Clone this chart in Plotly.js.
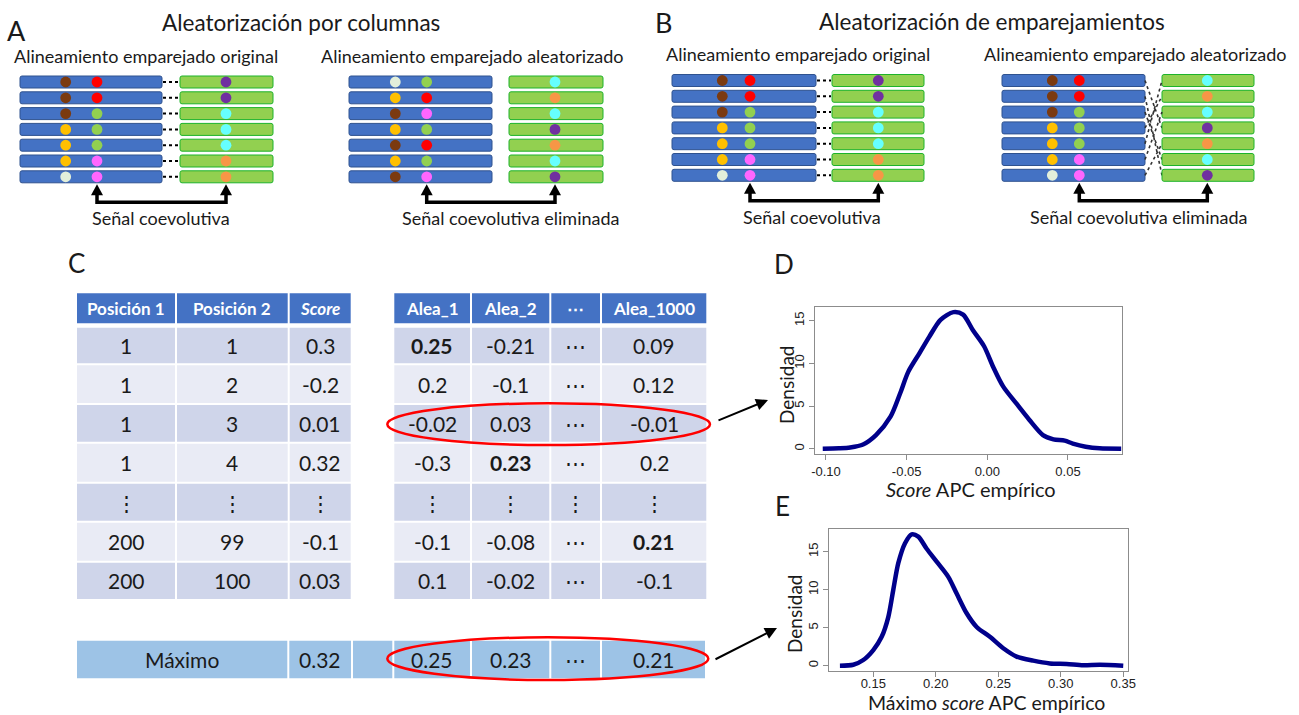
<!DOCTYPE html>
<html><head><meta charset="utf-8">
<script src="https://cdn.plot.ly/plotly-3.0.1.min.js"></script>
<style>html,body{margin:0;padding:0;background:#fff}#chart{width:1299px;height:715px}</style>
</head><body><div id="chart"></div>
<script>
// ---------- DATA ----------
// Panel D: density of empirical APC score
const dX = [-0.102,-0.092,-0.085,-0.077,-0.069,-0.060,-0.054,-0.049,-0.042,-0.036,-0.029,-0.021,-0.015,-0.009,-0.002,0.0036,0.0098,0.018,0.026,0.0345,0.041,0.048,0.053,0.061,0.0696,0.083];
const dY = [0,0.05,0.15,0.5,1.6,3.75,6.5,9.0,11.2,13.1,15.1,16.0,15.7,13.9,12.0,9.6,7.3,5.3,3.4,1.6,1.1,0.94,0.6,0.23,0.04,0];
// Panel E: density of empirical maximum APC score
const eX = [0.1233,0.134,0.142,0.15,0.1567,0.162,0.166,0.17,0.1753,0.1807,0.186,0.1927,0.2007,0.21,0.2167,0.2247,0.2327,0.2433,0.254,0.2647,0.278,0.2913,0.3047,0.318,0.3313,0.35];
const eY = [0,0.13,0.75,2.06,3.8,6.4,10,13.5,16.1,17.3,17.0,15.4,13.7,11.7,9.5,6.9,5.1,3.8,2.3,1.2,0.66,0.3,0.22,0.05,0.13,0];
const dTicks = [-0.10,-0.05,0.00,0.05];
const dTickText = ['-0.10','-0.05','0.00','0.05'];
const eTicks = [0.15,0.20,0.25,0.30,0.35];
const eTickText = ['0.15','0.20','0.25','0.30','0.35'];
const yTicks = [0,5,10,15];

// Panel C tables
const hdr1 = ['Posición 1','Posición 2','<i>Score</i>'];
const pos1 = ['1','1','1','1','⋮','200','200'];
const pos2 = ['1','2','3','4','⋮','99','100'];
const score = ['0.3','-0.2','0.01','0.32','⋮','-0.1','0.03'];
const hdr2 = ['Alea_1','Alea_2','⋯','Alea_1000'];
const alea1 = ['0.25','0.2','-0.02','-0.3','⋮','-0.1','0.1'];
const alea2 = ['-0.21','-0.1','0.03','0.23','⋮','-0.08','-0.02'];
const aleaMid = ['⋯','⋯','⋯','⋯','⋮','⋯','⋯'];
const alea1000 = ['0.09','0.12','-0.01','0.2','⋮','0.21','-0.1'];
const boldCells = [[0,0],[1,3],[3,5]]; // [column, row] of bold maxima in table 2
const maxRow = ['Máximo','0.32','','0.25','0.23','⋯','0.21'];

// Panels A/B dot colours per row (blue part: two columns, green part: one column)
const origCol1 = ['brown','brown','brown','gold','gold','gold','pale'];
const origCol2 = ['red','red','green','green','green','pink','pink'];
const origColG = ['purple','purple','cyan','cyan','cyan','orange','orange'];
const colRandCol1 = ['pale','gold','brown','gold','brown','gold','brown'];
const colRandCol2 = ['green','red','pink','green','red','green','pink'];
const colRandColG = ['cyan','orange','cyan','purple','orange','cyan','purple'];
const pairRandColG = ['cyan','orange','cyan','purple','orange','cyan','purple'];
const pairPerm = [3,6,5,1,0,2,4];

// ---------- GEOMETRY HELPERS ----------
const W = 1299, H = 715;
const X = p => p / W;
const Y = p => 1 - p / H;
const palette = {brown:'#7B3A10', red:'#FF0000', purple:'#7030A0', cyan:'#66FFFF', gold:'#FFC000',
  green:'#92D050', pink:'#FF66FF', orange:'#F79646', pale:'#E2EFDA'};
const shapes = [];
const ann = [];
const FONT = 'Lato, "Open Sans", sans-serif';
const TXT = '#1a1a1a';

function rrect(x0,y0,x1,y1,r){
  return `M${X(x0+r)},${Y(y0)} L${X(x1-r)},${Y(y0)} Q${X(x1)},${Y(y0)} ${X(x1)},${Y(y0+r)} L${X(x1)},${Y(y1-r)} Q${X(x1)},${Y(y1)} ${X(x1-r)},${Y(y1)} L${X(x0+r)},${Y(y1)} Q${X(x0)},${Y(y1)} ${X(x0)},${Y(y1-r)} L${X(x0)},${Y(y0+r)} Q${X(x0)},${Y(y0)} ${X(x0+r)},${Y(y0)} Z`;
}
function rect(x0,y0,x1,y1,fill){
  shapes.push({type:'rect',xref:'paper',yref:'paper',x0:X(x0),x1:X(x1),y0:Y(y1),y1:Y(y0),fillcolor:fill,line:{width:0},layer:'below'});
}
function circ(cx,cy,r,fill){
  shapes.push({type:'circle',xref:'paper',yref:'paper',x0:X(cx-r),x1:X(cx+r),y0:Y(cy+r),y1:Y(cy-r),fillcolor:fill,line:{width:0}});
}
function line(x0,y0,x1,y1,color,width,dash){
  shapes.push({type:'line',xref:'paper',yref:'paper',x0:X(x0),y0:Y(y0),x1:X(x1),y1:Y(y1),line:{color:color,width:width,dash:dash||'solid'}});
}
function text(x,y,t,size,opts){
  opts = opts || {};
  ann.push({xref:'paper',yref:'paper',x:X(x),y:Y(y),text:t,showarrow:false,xanchor:'center',yanchor:'middle',
    textangle:opts.angle||0,font:{family:opts.family||FONT,size:size,color:opts.color||TXT}});
}
function upHead(x,tipY){
  shapes.push({type:'path',xref:'paper',yref:'paper',path:`M${X(x)},${Y(tipY)} L${X(x+6)},${Y(tipY+11)} L${X(x-6)},${Y(tipY+11)} Z`,fillcolor:'#000',line:{width:0}});
}

// Alignment block
function alignment(g){
  const rows = 7;
  for(let i=0;i<rows;i++){
    const cy = g.y0 + i*15.8;
    shapes.push({type:'path',xref:'paper',yref:'paper',path:rrect(g.b0,cy-6,g.b1,cy+6,2),fillcolor:'#4472C4',line:{color:'#2F528F',width:1}});
    shapes.push({type:'path',xref:'paper',yref:'paper',path:rrect(g.g0,cy-6,g.g1,cy+6,2),fillcolor:'#92D050',line:{color:'#1DB32B',width:1}});
    circ(g.d1,cy,5.4,palette[g.c1[i]]);
    circ(g.d2,cy,5.4,palette[g.c2[i]]);
    circ(g.dg,cy,5.4,palette[g.cg[i]]);
    if(g.link==='straight') line(g.b1+1,cy,g.g0-1,cy,'#000',2,'dot');
    if(g.link==='perm'){
      const cy2 = g.y0 + g.perm[i]*15.8;
      line(g.b1,cy,g.g0,cy2,'#333',1.6,'dot');
    }
  }
  // coevolution arrow
  const tip = g.y0 + 6*15.8 + 7.5, base = tip + 18;
  shapes.push({type:'path',xref:'paper',yref:'paper',path:`M${X(g.d2)},${Y(tip+9)} L${X(g.d2)},${Y(base)} L${X(g.dg)},${Y(base)} L${X(g.dg)},${Y(tip+9)}`,line:{color:'#000',width:3.5}});
  upHead(g.d2,tip); upHead(g.dg,tip);
  text(g.tx, base+16, g.label, 18);
}

alignment({y0:82,b0:20,b1:162,g0:180,g1:273,d1:65.7,d2:97,dg:226,c1:origCol1,c2:origCol2,cg:origColG,link:'straight',tx:161,label:'Señal coevolutiva'});
alignment({y0:82,b0:349,b1:492,g0:509,g1:603,d1:395.3,d2:426.7,dg:555,c1:colRandCol1,c2:colRandCol2,cg:colRandColG,link:'none',tx:510,label:'Señal coevolutiva eliminada'});
alignment({y0:80.5,b0:672,b1:816,g0:832,g1:924,d1:722.3,d2:750,dg:878.3,c1:origCol1,c2:origCol2,cg:origColG,link:'straight',tx:812,label:'Señal coevolutiva'});
alignment({y0:80.5,b0:1002,b1:1145,g0:1162,g1:1254,d1:1052.3,d2:1079.3,dg:1207.3,c1:origCol1,c2:origCol2,cg:pairRandColG,link:'perm',perm:pairPerm,tx:1138,label:'Señal coevolutiva eliminada'});

// Titles and panel letters
text(16.5,31,'A',27); text(663,22,'B',27);
text(301,22,'Aleatorización por columnas',22.5);
text(992,21,'Aleatorización de emparejamientos',22.5);
text(146,56,'Alineamiento emparejado original',18);
text(472,56,'Alineamiento emparejado aleatorizado',18);
text(798,54,'Alineamiento emparejado original',18);
text(1135,54,'Alineamiento emparejado aleatorizado',18);
text(76,263,'C',26); text(784,264,'D',26); text(782,506,'E',26);

// ---------- TABLES ----------
const hdrY = [293.3,323.3];
const rowB = [326.7,364.3,404,442.7,482.7,521.7,561.7,600];
function table(cols, hdr, columns, boldSet){
  for(let c=0;c<hdr.length;c++){
    rect(cols[c]+1,hdrY[0],cols[c+1]-1,hdrY[1],'#4472C4');
    text((cols[c]+cols[c+1])/2,(hdrY[0]+hdrY[1])/2,'<b>'+hdr[c]+'</b>',17,{color:'#fff'});
    for(let r=0;r<7;r++){
      rect(cols[c]+1,rowB[r]+1,cols[c+1]-1,rowB[r+1]-1, r%2===0?'#CFD5EA':'#E9EBF5');
      let t = columns[c][r];
      if(boldSet && boldSet.some(b=>b[0]===c&&b[1]===r)) t = '<b>'+t+'</b>';
      text((cols[c]+cols[c+1])/2,(rowB[r]+rowB[r+1])/2,t,21);
    }
  }
}
table([76,176,288.7,351.7],hdr1,[pos1,pos2,score]);
table([393.3,471,550.3,601,707.3],hdr2,[alea1,alea2,aleaMid,alea1000],boldCells);
const maxB = [76,288.3,352,393.3,471,550.3,601,706];
for(let c=0;c<maxRow.length;c++){
  rect(maxB[c]+1,640.7,maxB[c+1]-1,678.3,'#9DC3E6');
  if(maxRow[c]) text((maxB[c]+maxB[c+1])/2,659.5,maxRow[c],21);
}
// red ellipses
shapes.push({type:'circle',xref:'paper',yref:'paper',x0:X(387.3),x1:X(710),y0:Y(445),y1:Y(403.3),line:{color:'#FF0000',width:2.5}});
shapes.push({type:'circle',xref:'paper',yref:'paper',x0:X(387.3),x1:X(708.3),y0:Y(680),y1:Y(637.3),line:{color:'#FF0000',width:2.5}});
// arrows to density plots
ann.push({xref:'paper',yref:'paper',x:X(768),y:Y(400),ax:-51,ay:21,showarrow:true,arrowhead:2,arrowsize:1.2,arrowwidth:2,arrowcolor:'#000',text:''});
ann.push({xref:'paper',yref:'paper',x:X(777),y:Y(628),ax:-63,ay:32,showarrow:true,arrowhead:2,arrowsize:1.2,arrowwidth:2,arrowcolor:'#000',text:''});

// axis titles of the density plots
text(786,385,'Densidad',19,{angle:-90});
text(794,614,'Densidad',19,{angle:-90});
text(971,489,'<i>Score</i> APC empírico',20);
text(986,702,'Máximo <i>score</i> APC empírico',19.5);

// ---------- DENSITY PLOTS ----------
const traces = [
  {x:dX,y:dY,type:'scatter',mode:'lines',line:{color:'#00008B',width:4.5,shape:'spline',smoothing:0.8},xaxis:'x',yaxis:'y',hoverinfo:'skip'},
  {x:eX,y:eY,type:'scatter',mode:'lines',line:{color:'#00008B',width:4.5,shape:'spline',smoothing:0.8},xaxis:'x2',yaxis:'y2',hoverinfo:'skip'}
];
const axBase = {showline:true,mirror:true,linecolor:'#8c8c8c',linewidth:1,ticks:'outside',ticklen:5,tickcolor:'#8c8c8c',
  showgrid:false,zeroline:false,tickfont:{family:'"Liberation Sans", Arial, sans-serif',size:13,color:'#222'},fixedrange:true};
const layout = {
  width:W,height:H,margin:{l:0,r:0,t:0,b:0},paper_bgcolor:'#fff',plot_bgcolor:'#fff',showlegend:false,
  xaxis:Object.assign({},axBase,{domain:[X(815),X(1122)],range:[-0.1068,0.0835],tickmode:'array',tickvals:dTicks,ticktext:dTickText,anchor:'y'}),
  yaxis:Object.assign({},axBase,{domain:[Y(454),Y(307)],range:[-0.62,16.6],tickmode:'array',tickvals:yTicks,tickangle:-90,anchor:'x'}),
  xaxis2:Object.assign({},axBase,{domain:[X(829.3),X(1128)],range:[0.1148,0.3538],tickmode:'array',tickvals:eTicks,ticktext:eTickText,anchor:'y2',ticklabelstandoff:-5}),
  yaxis2:Object.assign({},axBase,{domain:[Y(671),Y(529)],range:[-0.7,18],tickmode:'array',tickvals:yTicks,tickangle:-90,anchor:'x2'}),
  shapes:shapes,annotations:ann
};
Plotly.newPlot('chart',traces,layout,{staticPlot:true,displayModeBar:false});
</script></body></html>
